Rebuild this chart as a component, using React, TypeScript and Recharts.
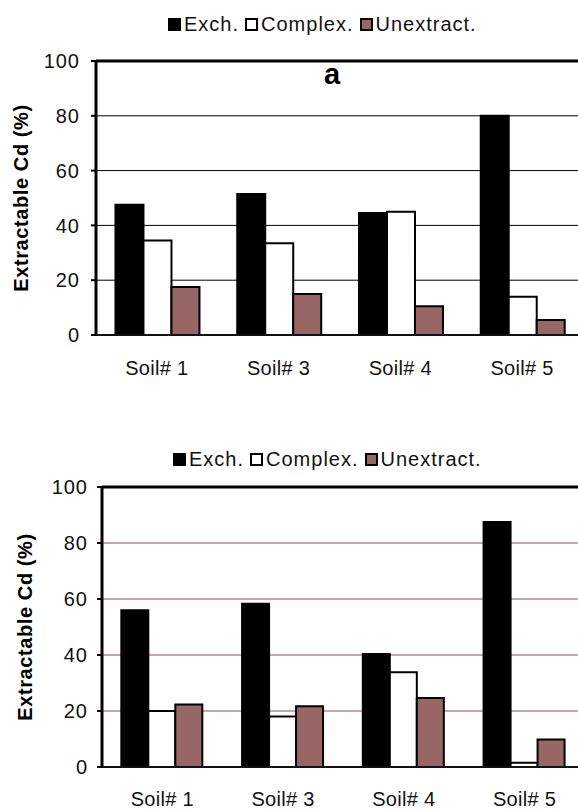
import React from 'react';
import { BarChart, Bar, XAxis, YAxis, CartesianGrid, ReferenceLine, Legend, Label } from 'recharts';

const categories = ['Soil# 1', 'Soil# 3', 'Soil# 4', 'Soil# 5'];
const seriesNames = ['Exch.', 'Complex.', 'Unextract.'];
const exchA = [47.5, 51.5, 44.5, 80];
const complexA = [34.5, 33.5, 45, 14];
const unextractA = [17.5, 15, 10.5, 5.5];
const exchB = [56, 58.3, 40.4, 87.5];
const complexB = [20, 18, 33.8, 1.5];
const unextractB = [22.3, 21.7, 24.6, 9.8];
const yTicks = [0, 20, 40, 60, 80, 100];
const yLabel = 'Extractable Cd (%)';
const panelLabel = 'a';

const FONT = '"Liberation Sans", Arial, Helvetica, sans-serif';
const UNEXTRACT_COLOR = '#996666';

const buildData = (ex: number[], cx: number[], ux: number[]) =>
  categories.map((c, i) => ({ soil: c, exch: ex[i], complex: cx[i], unextract: ux[i] }));

const dataA = buildData(exchA, complexA, unextractA);
const dataB = buildData(exchB, complexB, unextractB);

const LegendContent = (props: any) => {
  const items = [...(props.payload || [])].sort(
    (a: any, b: any) => seriesNames.indexOf(a.value) - seriesNames.indexOf(b.value)
  );
  return (
    <div
      style={{
        display: 'flex',
        alignItems: 'center',
        fontFamily: FONT,
        fontSize: 20,
        letterSpacing: 1,
        color: '#111',
        whiteSpace: 'nowrap',
        lineHeight: '20px',
      }}
    >
      {items.map((it: any, i: number) => (
        <span key={i} style={{ display: 'inline-flex', alignItems: 'center', marginRight: 6 }}>
          <svg width={13} height={13} style={{ marginRight: 3 }}>
            <rect x={1} y={1} width={11} height={11} fill={it.color} stroke="#000" strokeWidth={2} />
          </svg>
          {it.value}
        </span>
      ))}
    </div>
  );
};

type PanelProps = {
  data: any[];
  width: number;
  height: number;
  margin: { top: number; right: number; bottom: number; left: number };
  yWidth: number;
  gridColor: string;
  legendTop: number;
  legendLeft: number;
  labelX: number;
  tickMarginY: number;
  tickMarginX: number;
};

const Panel = (p: PanelProps) => (
  <BarChart
    width={p.width}
    height={p.height}
    data={p.data}
    margin={p.margin}
    barCategoryGap="16%"
    barGap={0}
  >
    <CartesianGrid horizontal vertical={false} stroke={p.gridColor} strokeWidth={1} />
    <XAxis
      dataKey="soil"
      height={30}
      tickLine={false}
      tickSize={0}
      tickMargin={p.tickMarginX}
      axisLine={{ stroke: '#111', strokeWidth: 2 }}
      tick={{ fontFamily: FONT, fontSize: 20, fill: '#111', letterSpacing: 0.3 }}
      interval={0}
    />
    <YAxis
      domain={[0, 100]}
      ticks={yTicks}
      width={p.yWidth}
      tickSize={5}
      tickMargin={p.tickMarginY}
      tickLine={{ stroke: '#000', strokeWidth: 2 }}
      axisLine={{ stroke: '#000', strokeWidth: 3 }}
      tick={{ fontFamily: FONT, fontSize: 20, fill: '#111', letterSpacing: 1 }}
      allowDataOverflow
    >
      <Label
        content={(lp: any) => {
          const vb = lp.viewBox || {};
          const cx = p.labelX;
          const cy = (vb.y || 0) + (vb.height || 0) / 2;
          return (
            <text
              x={cx}
              y={cy}
              transform={`rotate(-90 ${cx} ${cy})`}
              textAnchor="middle"
              dominantBaseline="central"
              fontFamily={FONT}
              fontSize={20}
              fontWeight="bold"
              letterSpacing={0.6}
              fill="#000"
            >
              {yLabel}
            </text>
          );
        }}
      />
    </YAxis>
    <ReferenceLine y={100} stroke="#000" strokeWidth={3} />
    <Legend
      layout="horizontal"
      verticalAlign="middle"
      align="center"
      content={<LegendContent />}
      wrapperStyle={{ top: p.legendTop, left: p.legendLeft, width: 'auto' }}
    />
    <Bar dataKey="exch" name={seriesNames[0]} fill="#000" stroke="#000" strokeWidth={2} isAnimationActive={false} />
    <Bar dataKey="complex" name={seriesNames[1]} fill="#fff" stroke="#000" strokeWidth={2} isAnimationActive={false} />
    <Bar dataKey="unextract" name={seriesNames[2]} fill={UNEXTRACT_COLOR} stroke="#000" strokeWidth={2} isAnimationActive={false} />
  </BarChart>
);

export default function App() {
  return (
    <div
      style={{
        position: 'absolute',
        left: 0,
        top: 0,
        width: 578,
        height: 809,
        overflow: 'hidden',
        background: '#fff',
      }}
    >
      <div style={{ position: 'absolute', left: 0, top: 0 }}>
        <Panel
          data={dataA}
          width={600}
          height={400}
          margin={{ top: 61, right: 17, bottom: 35, left: 0 }}
          yWidth={96}
          gridColor="#000"
          legendTop={14}
          legendLeft={168}
          labelX={21}
          tickMarginY={11}
          tickMarginX={26}
        />
        <div
          style={{
            position: 'absolute',
            left: 332,
            top: 60,
            transform: 'translateX(-50%)',
            fontFamily: FONT,
            fontWeight: 'bold',
            fontSize: 29,
            lineHeight: '29px',
            color: '#000',
          }}
        >
          {panelLabel}
        </div>
      </div>
      <div style={{ position: 'absolute', left: 0, top: 400 }}>
        <Panel
          data={dataB}
          width={600}
          height={409}
          margin={{ top: 87, right: 15, bottom: 12, left: 0 }}
          yWidth={102}
          gridColor="#9a4a4a"
          legendTop={49}
          legendLeft={173}
          labelX={25}
          tickMarginY={9}
          tickMarginX={25}
        />
      </div>
    </div>
  );
}
